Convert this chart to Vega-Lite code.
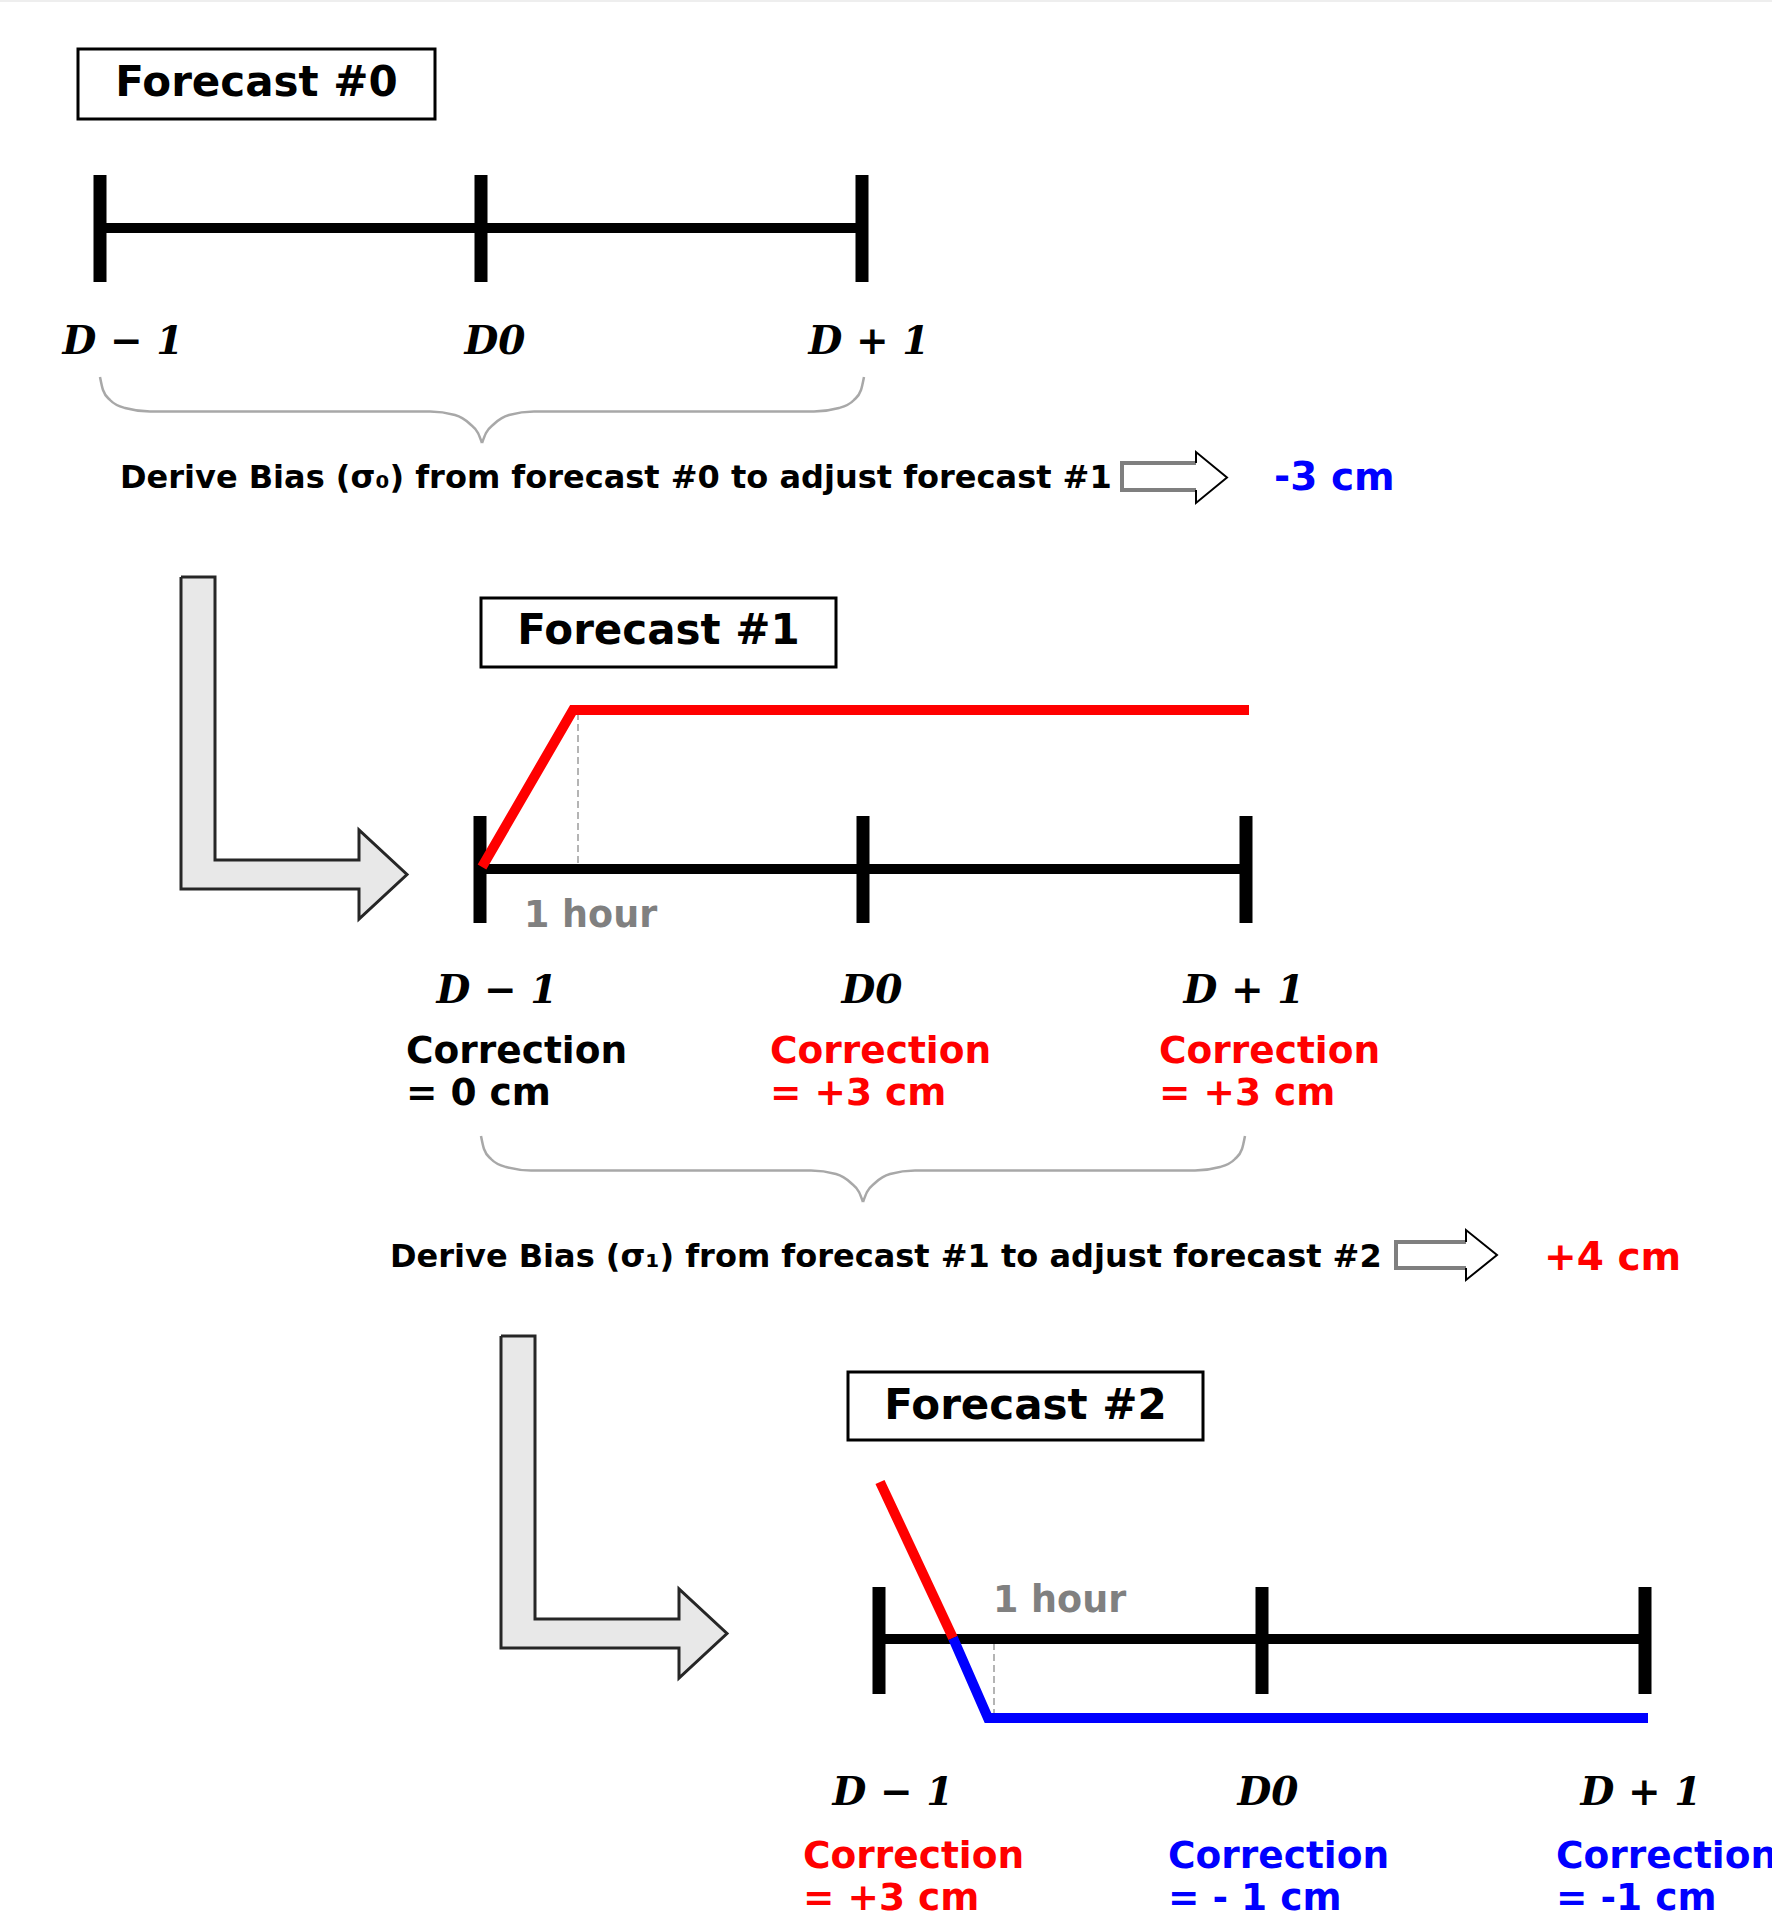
{
  "$schema": "https://vega.github.io/schema/vega-lite/v6.json",
  "width": 1772,
  "height": 1922,
  "autosize": "none",
  "padding": 0,
  "background": "white",
  "config": {"view": {"stroke": null}},
  "datasets": {
    "topBand": [
      {"x": 0, "x2": 1772, "y": 0, "y2": 2}
    ],
    "lArrowRects": [
      {"x": 181, "x2": 215, "y": 577, "y2": 889},
      {"x": 181, "x2": 361, "y": 860, "y2": 889},
      {"x": 501, "x2": 535, "y": 1336, "y2": 1648},
      {"x": 501, "x2": 681, "y": 1619, "y2": 1648}
    ],
    "lArrowHeads": [
      {"g": "L1", "x": 359, "y": 830, "y2": 919},
      {"g": "L1", "x": 407, "y": 874.5, "y2": 874.5},
      {"g": "L2", "x": 679, "y": 1589, "y2": 1678},
      {"g": "L2", "x": 727, "y": 1633.5, "y2": 1633.5}
    ],
    "lArrowOutline": [
      {"g": "L1", "i": 0, "x": 181, "y": 577},
      {"g": "L1", "i": 1, "x": 215, "y": 577},
      {"g": "L1", "i": 2, "x": 215, "y": 860},
      {"g": "L1", "i": 3, "x": 359, "y": 860},
      {"g": "L1", "i": 4, "x": 359, "y": 830},
      {"g": "L1", "i": 5, "x": 407, "y": 874.5},
      {"g": "L1", "i": 6, "x": 359, "y": 919},
      {"g": "L1", "i": 7, "x": 359, "y": 889},
      {"g": "L1", "i": 8, "x": 181, "y": 889},
      {"g": "L1", "i": 9, "x": 181, "y": 577},
      {"g": "L2", "i": 0, "x": 501, "y": 1336},
      {"g": "L2", "i": 1, "x": 535, "y": 1336},
      {"g": "L2", "i": 2, "x": 535, "y": 1619},
      {"g": "L2", "i": 3, "x": 679, "y": 1619},
      {"g": "L2", "i": 4, "x": 679, "y": 1589},
      {"g": "L2", "i": 5, "x": 727, "y": 1633.5},
      {"g": "L2", "i": 6, "x": 679, "y": 1678},
      {"g": "L2", "i": 7, "x": 679, "y": 1648},
      {"g": "L2", "i": 8, "x": 501, "y": 1648},
      {"g": "L2", "i": 9, "x": 501, "y": 1336}
    ],
    "blockShafts": [
      {"x": 1122, "x2": 1197, "y": 463, "y2": 490},
      {"x": 1396, "x2": 1467, "y": 1242, "y2": 1268}
    ],
    "blockHeads": [
      {"g": "A1", "x": 1196, "y": 452, "y2": 503},
      {"g": "A1", "x": 1227, "y": 477.5, "y2": 477.5},
      {"g": "A2", "x": 1466, "y": 1230, "y2": 1280},
      {"g": "A2", "x": 1497, "y": 1255, "y2": 1255}
    ],
    "blockShaftOutline": [
      {"g": "A1", "i": 0, "x": 1196, "y": 463},
      {"g": "A1", "i": 1, "x": 1122, "y": 463},
      {"g": "A1", "i": 2, "x": 1122, "y": 490},
      {"g": "A1", "i": 3, "x": 1196, "y": 490},
      {"g": "A2", "i": 0, "x": 1466, "y": 1242},
      {"g": "A2", "i": 1, "x": 1396, "y": 1242},
      {"g": "A2", "i": 2, "x": 1396, "y": 1268},
      {"g": "A2", "i": 3, "x": 1466, "y": 1268}
    ],
    "blockHeadOutline": [
      {"g": "A1", "i": 0, "x": 1196, "y": 463},
      {"g": "A1", "i": 1, "x": 1196, "y": 452},
      {"g": "A1", "i": 2, "x": 1227, "y": 477.5},
      {"g": "A1", "i": 3, "x": 1196, "y": 503},
      {"g": "A1", "i": 4, "x": 1196, "y": 490},
      {"g": "A2", "i": 0, "x": 1466, "y": 1242},
      {"g": "A2", "i": 1, "x": 1466, "y": 1230},
      {"g": "A2", "i": 2, "x": 1497, "y": 1255},
      {"g": "A2", "i": 3, "x": 1466, "y": 1280},
      {"g": "A2", "i": 4, "x": 1466, "y": 1268}
    ],
    "boxes": [
      {"x": 78, "x2": 435, "y": 49, "y2": 119},
      {"x": 481, "x2": 836, "y": 598, "y2": 667},
      {"x": 848, "x2": 1203, "y": 1372, "y2": 1440}
    ],
    "timelines": [
      {"x": 100, "x2": 868, "y": 228},
      {"x": 480, "x2": 1246, "y": 869},
      {"x": 879, "x2": 1645, "y": 1639}
    ],
    "ticks": [
      {"x": 100, "y": 175, "y2": 282},
      {"x": 481, "y": 175, "y2": 282},
      {"x": 862, "y": 175, "y2": 282},
      {"x": 480, "y": 816, "y2": 923},
      {"x": 863, "y": 816, "y2": 923},
      {"x": 1246, "y": 816, "y2": 923},
      {"x": 879, "y": 1587, "y2": 1694},
      {"x": 1262, "y": 1587, "y2": 1694},
      {"x": 1645, "y": 1587, "y2": 1694}
    ],
    "forecastLines": [
      {"s": "F1", "sign": "positive", "i": 0, "x": 482, "y": 867},
      {"s": "F1", "sign": "positive", "i": 1, "x": 573, "y": 710},
      {"s": "F1", "sign": "positive", "i": 2, "x": 1249, "y": 710},
      {"s": "F2a", "sign": "positive", "i": 0, "x": 880, "y": 1482},
      {"s": "F2a", "sign": "positive", "i": 1, "x": 953, "y": 1638},
      {"s": "F2b", "sign": "negative", "i": 0, "x": 953, "y": 1638},
      {"s": "F2b", "sign": "negative", "i": 1, "x": 988, "y": 1718},
      {"s": "F2b", "sign": "negative", "i": 2, "x": 1648, "y": 1718}
    ],
    "dashes": [
      {"x": 578, "y": 713, "y2": 865},
      {"x": 994, "y": 1643, "y2": 1713}
    ],
    "braces": [
      {"b": "B1L", "i": 0, "x": 100, "y": 377},
      {"b": "B1L", "i": 1, "x": 103, "y": 390},
      {"b": "B1L", "i": 2, "x": 110, "y": 400},
      {"b": "B1L", "i": 3, "x": 125, "y": 408},
      {"b": "B1L", "i": 4, "x": 150, "y": 411.5},
      {"b": "B1L", "i": 5, "x": 430, "y": 411.5},
      {"b": "B1L", "i": 6, "x": 455, "y": 415},
      {"b": "B1L", "i": 7, "x": 470, "y": 424},
      {"b": "B1L", "i": 8, "x": 478, "y": 433},
      {"b": "B1L", "i": 9, "x": 482, "y": 443},
      {"b": "B1R", "i": 0, "x": 482, "y": 443},
      {"b": "B1R", "i": 1, "x": 486, "y": 433},
      {"b": "B1R", "i": 2, "x": 494, "y": 424},
      {"b": "B1R", "i": 3, "x": 509, "y": 415},
      {"b": "B1R", "i": 4, "x": 534, "y": 411.5},
      {"b": "B1R", "i": 5, "x": 814, "y": 411.5},
      {"b": "B1R", "i": 6, "x": 839, "y": 408},
      {"b": "B1R", "i": 7, "x": 854, "y": 400},
      {"b": "B1R", "i": 8, "x": 861, "y": 390},
      {"b": "B1R", "i": 9, "x": 864, "y": 377},
      {"b": "B2L", "i": 0, "x": 481, "y": 1136},
      {"b": "B2L", "i": 1, "x": 484, "y": 1149},
      {"b": "B2L", "i": 2, "x": 491, "y": 1159},
      {"b": "B2L", "i": 3, "x": 506, "y": 1167},
      {"b": "B2L", "i": 4, "x": 531, "y": 1170.5},
      {"b": "B2L", "i": 5, "x": 811, "y": 1170.5},
      {"b": "B2L", "i": 6, "x": 836, "y": 1174},
      {"b": "B2L", "i": 7, "x": 851, "y": 1183},
      {"b": "B2L", "i": 8, "x": 859, "y": 1192},
      {"b": "B2L", "i": 9, "x": 863, "y": 1202},
      {"b": "B2R", "i": 0, "x": 863, "y": 1202},
      {"b": "B2R", "i": 1, "x": 867, "y": 1192},
      {"b": "B2R", "i": 2, "x": 875, "y": 1183},
      {"b": "B2R", "i": 3, "x": 890, "y": 1174},
      {"b": "B2R", "i": 4, "x": 915, "y": 1170.5},
      {"b": "B2R", "i": 5, "x": 1195, "y": 1170.5},
      {"b": "B2R", "i": 6, "x": 1220, "y": 1167},
      {"b": "B2R", "i": 7, "x": 1235, "y": 1159},
      {"b": "B2R", "i": 8, "x": 1242, "y": 1149},
      {"b": "B2R", "i": 9, "x": 1245, "y": 1136}
    ],
    "titles": [
      {"x": 256.5, "y": 96, "label": "Forecast #0"},
      {"x": 658.5, "y": 644, "label": "Forecast #1"},
      {"x": 1025.5, "y": 1419, "label": "Forecast #2"}
    ],
    "dayLabels": [
      {"x": 123, "y": 354, "label": "D − 1"},
      {"x": 495, "y": 354, "label": "D0"},
      {"x": 869, "y": 354, "label": "D + 1"},
      {"x": 497, "y": 1003, "label": "D − 1"},
      {"x": 872, "y": 1003, "label": "D0"},
      {"x": 1244, "y": 1003, "label": "D + 1"},
      {"x": 893, "y": 1805, "label": "D − 1"},
      {"x": 1268, "y": 1805, "label": "D0"},
      {"x": 1641, "y": 1805, "label": "D + 1"}
    ],
    "deriveTexts": [
      {"x": 120, "y": 488, "label": "Derive Bias (σ₀) from forecast #0 to adjust forecast #1"},
      {"x": 390, "y": 1267, "label": "Derive Bias (σ₁) from forecast #1 to adjust forecast #2"}
    ],
    "biasValues": [
      {"x": 1274, "y": 490, "label": "-3 cm", "sign": "negative"},
      {"x": 1544, "y": 1270, "label": "+4 cm", "sign": "positive"}
    ],
    "hourLabels": [
      {"x": 524, "y": 927, "label": "1 hour"},
      {"x": 993, "y": 1612, "label": "1 hour"}
    ],
    "corrections": [
      {"x": 406, "y": 1063, "label": "Correction", "sign": "zero"},
      {"x": 406, "y": 1105, "label": "= 0 cm", "sign": "zero"},
      {"x": 770, "y": 1063, "label": "Correction", "sign": "positive"},
      {"x": 770, "y": 1105, "label": "= +3 cm", "sign": "positive"},
      {"x": 1159, "y": 1063, "label": "Correction", "sign": "positive"},
      {"x": 1159, "y": 1105, "label": "= +3 cm", "sign": "positive"},
      {"x": 803, "y": 1868, "label": "Correction", "sign": "positive"},
      {"x": 803, "y": 1910, "label": "= +3 cm", "sign": "positive"},
      {"x": 1168, "y": 1868, "label": "Correction", "sign": "negative"},
      {"x": 1168, "y": 1910, "label": "= - 1 cm", "sign": "negative"},
      {"x": 1556, "y": 1868, "label": "Correction", "sign": "negative"},
      {"x": 1556, "y": 1910, "label": "= -1 cm", "sign": "negative"}
    ]
  },
  "encoding": {
    "x": {"field": "x", "type": "quantitative", "scale": {"domain": [0, 1772], "nice": false, "zero": false}, "axis": null},
    "y": {"field": "y", "type": "quantitative", "scale": {"domain": [0, 1922], "nice": false, "zero": false, "reverse": true}, "axis": null}
  },
  "layer": [
    {
      "data": {"name": "topBand"},
      "mark": {"type": "rect", "fill": "#eeeeee", "strokeWidth": 0},
      "encoding": {"x2": {"field": "x2"}, "y2": {"field": "y2"}}
    },
    {
      "data": {"name": "lArrowRects"},
      "mark": {"type": "rect", "fill": "#e8e8e8", "strokeWidth": 0},
      "encoding": {"x2": {"field": "x2"}, "y2": {"field": "y2"}}
    },
    {
      "data": {"name": "lArrowHeads"},
      "mark": {"type": "area", "orient": "vertical", "fill": "#e8e8e8", "interpolate": "linear"},
      "encoding": {"y2": {"field": "y2"}, "detail": {"field": "g"}}
    },
    {
      "data": {"name": "lArrowOutline"},
      "mark": {"type": "line", "stroke": "#262626", "strokeWidth": 3, "strokeJoin": "miter"},
      "encoding": {"detail": {"field": "g"}, "order": {"field": "i"}}
    },
    {
      "data": {"name": "blockShafts"},
      "mark": {"type": "rect", "fill": "white", "strokeWidth": 0},
      "encoding": {"x2": {"field": "x2"}, "y2": {"field": "y2"}}
    },
    {
      "data": {"name": "blockHeads"},
      "mark": {"type": "area", "orient": "vertical", "fill": "white"},
      "encoding": {"y2": {"field": "y2"}, "detail": {"field": "g"}}
    },
    {
      "data": {"name": "blockShaftOutline"},
      "mark": {"type": "line", "stroke": "#7f7f7f", "strokeWidth": 4, "strokeJoin": "miter"},
      "encoding": {"detail": {"field": "g"}, "order": {"field": "i"}}
    },
    {
      "data": {"name": "blockHeadOutline"},
      "mark": {"type": "line", "stroke": "#000000", "strokeWidth": 2, "strokeJoin": "miter"},
      "encoding": {"detail": {"field": "g"}, "order": {"field": "i"}}
    },
    {
      "data": {"name": "boxes"},
      "mark": {"type": "rect", "fill": "white", "stroke": "black", "strokeWidth": 3},
      "encoding": {"x2": {"field": "x2"}, "y2": {"field": "y2"}}
    },
    {
      "data": {"name": "dashes"},
      "mark": {"type": "rule", "stroke": "#b4b4b4", "strokeWidth": 2, "strokeDash": [7, 4]},
      "encoding": {"y2": {"field": "y2"}}
    },
    {
      "data": {"name": "timelines"},
      "mark": {"type": "rule", "stroke": "black", "strokeWidth": 10, "strokeCap": "butt"},
      "encoding": {"x2": {"field": "x2"}}
    },
    {
      "data": {"name": "ticks"},
      "mark": {"type": "rule", "stroke": "black", "strokeWidth": 13, "strokeCap": "butt"},
      "encoding": {"y2": {"field": "y2"}}
    },
    {
      "data": {"name": "forecastLines"},
      "mark": {"type": "line", "strokeWidth": 10, "strokeJoin": "miter"},
      "encoding": {
        "detail": {"field": "s"},
        "order": {"field": "i"},
        "color": {"field": "sign", "type": "nominal", "scale": {"domain": ["zero", "positive", "negative"], "range": ["#000000", "#ff0000", "#0000ff"]}, "legend": null}
      }
    },
    {
      "data": {"name": "braces"},
      "mark": {"type": "line", "stroke": "#a8a8a8", "strokeWidth": 2.5, "interpolate": "monotone"},
      "encoding": {"detail": {"field": "b"}, "order": {"field": "i"}}
    },
    {
      "data": {"name": "titles"},
      "mark": {"type": "text", "font": "DejaVu Sans", "fontWeight": "bold", "fontSize": 42, "align": "center", "baseline": "alphabetic", "fill": "black"},
      "encoding": {"text": {"field": "label"}}
    },
    {
      "data": {"name": "dayLabels"},
      "mark": {"type": "text", "font": "DejaVu Serif", "fontWeight": "bold", "fontStyle": "italic", "fontSize": 39, "align": "center", "baseline": "alphabetic", "fill": "black"},
      "encoding": {"text": {"field": "label"}}
    },
    {
      "data": {"name": "deriveTexts"},
      "mark": {"type": "text", "font": "DejaVu Sans", "fontWeight": "bold", "fontSize": 32, "align": "left", "baseline": "alphabetic", "fill": "black"},
      "encoding": {"text": {"field": "label"}}
    },
    {
      "data": {"name": "biasValues"},
      "mark": {"type": "text", "font": "DejaVu Sans", "fontWeight": "bold", "fontSize": 39, "align": "left", "baseline": "alphabetic"},
      "encoding": {
        "text": {"field": "label"},
        "color": {"field": "sign", "type": "nominal", "scale": {"domain": ["zero", "positive", "negative"], "range": ["#000000", "#ff0000", "#0000ff"]}, "legend": null}
      }
    },
    {
      "data": {"name": "hourLabels"},
      "mark": {"type": "text", "font": "DejaVu Sans", "fontWeight": "bold", "fontSize": 36.5, "align": "left", "baseline": "alphabetic", "fill": "#808080"},
      "encoding": {"text": {"field": "label"}}
    },
    {
      "data": {"name": "corrections"},
      "mark": {"type": "text", "font": "DejaVu Sans", "fontWeight": "bold", "fontSize": 37.5, "align": "left", "baseline": "alphabetic"},
      "encoding": {
        "text": {"field": "label"},
        "color": {"field": "sign", "type": "nominal", "scale": {"domain": ["zero", "positive", "negative"], "range": ["#000000", "#ff0000", "#0000ff"]}, "legend": null}
      }
    }
  ]
}
